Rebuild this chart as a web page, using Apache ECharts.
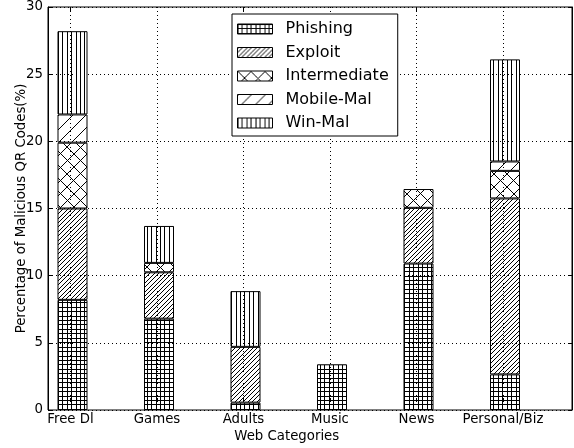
<!DOCTYPE html>
<html>
<head>
<meta charset="utf-8">
<script src="https://cdn.jsdelivr.net/npm/echarts@6/dist/echarts.min.js"></script>
<style>
  html, body { margin: 0; padding: 0; background: #fff; }
  #chart { width: 574px; height: 448px; }
</style>
</head>
<body>
<div id="chart"></div>
<script>
// Share of malicious QR codes per web category, split by threat type
const categories = ['Free Dl', 'Games', 'Adults', 'Music', 'News', 'Personal/Biz'];
const phishing     = [8.2, 6.8, 0.55, 3.4, 10.9, 2.65];
const exploit      = [6.8, 3.45, 4.15, null, 4.15, 13.1];
const intermediate = [4.9, 0.7, null, null, 1.4, 2.05];
const mobileMal    = [2.1, null, null, null, null, 0.7];
const winMal       = [6.2, 2.75, 4.15, null, null, 7.6];
const yMin = 0, yMax = 30, yStep = 5;

const FONT = 'DejaVu Sans';

// Pixel-exact hatch fills on a repeating 40x40 tile (transparent between lines)
function hatch(kinds) {
  const T = 40;
  const c = document.createElement('canvas');
  c.width = T; c.height = T;
  const g = c.getContext('2d');
  const img = g.createImageData(T, T);
  function hit(set, v) { return set.has(((v % T) + T) % T); }
  const sets = kinds.map(function (k) {
    const s = new Set();
    for (let i = 0; i < k.n; i++) s.add(Math.round(i * T / k.n) % T);
    return { dir: k.dir, s: s };
  });
  for (let y = 0; y < T; y++) {
    for (let x = 0; x < T; x++) {
      let on = false;
      sets.forEach(function (k) {
        if (k.dir === 'v' && hit(k.s, x)) on = true;
        if (k.dir === 'h' && hit(k.s, y)) on = true;
        if (k.dir === '/' && hit(k.s, x + y)) on = true;
        if (k.dir === '\\' && hit(k.s, x - y)) on = true;
      });
      if (on) {
        const p = (y * T + x) * 4;
        img.data[p] = 0; img.data[p + 1] = 0; img.data[p + 2] = 0; img.data[p + 3] = 255;
      }
    }
  }
  g.putImageData(img, 0, 0);
  return { image: c, repeat: 'repeat' };
}

const fills = {
  phishing: hatch([{ dir: 'v', n: 9 }, { dir: 'h', n: 9 }]),
  exploit: hatch([{ dir: '/', n: 9 }]),
  intermediate: hatch([{ dir: '/', n: 3 }, { dir: '\\', n: 3 }]),
  mobileMal: hatch([{ dir: '/', n: 3 }]),
  winMal: hatch([{ dir: 'v', n: 9 }])
};

function barSeries(name, data, fill) {
  return {
    name: name,
    type: 'bar',
    stack: 'total',
    xAxisIndex: 1,
    yAxisIndex: 2,
    barWidth: 30,
    data: data,
    itemStyle: { color: fill, borderColor: '#000', borderWidth: 1 },
    emphasis: { disabled: true }
  };
}

const dotted = { show: true, lineStyle: { color: '#000', width: 1, type: [1, 3] } };
const TOP = 7, BOTTOM = 38;

const chart = echarts.init(document.getElementById('chart'), null, { renderer: 'canvas' });
chart.setOption({
  animation: false,
  backgroundColor: '#fff',
  textStyle: { fontFamily: FONT },
  grid: [
    { left: 48, right: 2, top: TOP, bottom: BOTTOM, show: true, borderColor: '#000', borderWidth: 1, backgroundColor: 'transparent', containLabel: false },
    { left: 72.5, right: 69, top: TOP, bottom: BOTTOM },
    { left: 70.5, right: 71, top: TOP, bottom: BOTTOM }
  ],
  xAxis: [
    { gridIndex: 0, type: 'value', min: 0, max: 1, show: false },
    { gridIndex: 1, type: 'category', data: categories, boundaryGap: false, show: false },
    {
      gridIndex: 2, type: 'category', data: categories, boundaryGap: false, position: 'bottom',
      axisLine: { show: false },
      axisTick: { show: true, inside: true, length: 4, lineStyle: { color: '#000' } },
      axisLabel: { show: true, color: '#000', fontSize: 13.3, fontFamily: FONT, margin: 11, interval: 0, hideOverlap: false },
      splitLine: dotted,
      name: 'Web Categories', nameLocation: 'middle', nameGap: 28, nameMoveOverlap: false,
      nameTextStyle: { color: '#000', fontSize: 13.3, fontFamily: FONT }
    },
    {
      gridIndex: 2, type: 'category', data: categories, boundaryGap: false, position: 'top',
      axisLine: { show: false },
      axisTick: { show: true, inside: true, length: 4, lineStyle: { color: '#000' } },
      axisLabel: { show: false },
      splitLine: { show: false }
    }
  ],
  yAxis: [
    {
      gridIndex: 0, type: 'value', min: yMin, max: yMax, interval: yStep, position: 'left',
      axisLine: { show: true, lineStyle: { color: '#000' } },
      axisTick: { show: true, inside: true, length: 4, lineStyle: { color: '#000' } },
      axisLabel: { color: '#000', fontSize: 13.3, fontFamily: FONT, margin: 5 },
      splitLine: dotted,
      name: 'Percentage of Malicious QR Codes(%)', nameLocation: 'middle', nameGap: 20, nameMoveOverlap: false,
      nameTextStyle: { color: '#000', fontSize: 13.3, fontFamily: FONT }
    },
    {
      gridIndex: 0, type: 'value', min: yMin, max: yMax, interval: yStep, position: 'right',
      axisLine: { show: true, lineStyle: { color: '#000' } },
      axisTick: { show: true, inside: true, length: 4, lineStyle: { color: '#000' } },
      axisLabel: { show: false },
      splitLine: { show: false }
    },
    { gridIndex: 1, type: 'value', min: yMin, max: yMax, show: false },
    { gridIndex: 2, type: 'value', min: yMin, max: yMax, show: false }
  ],
  legend: {
    orient: 'vertical',
    left: 232, top: 14,
    itemWidth: 35, itemHeight: 10, itemGap: 7.5,
    padding: [7, 9, 5, 5],
    borderColor: '#000', borderWidth: 1, borderRadius: 0,
    backgroundColor: '#fff',
    selectedMode: false,
    icon: 'rect',
    itemStyle: { borderColor: '#000', borderWidth: 1 },
    textStyle: { color: '#000', fontSize: 16, fontFamily: FONT, padding: [0, 0, 0, 8] },
    data: ['Phishing', 'Exploit', 'Intermediate', 'Mobile-Mal', 'Win-Mal']
  },
  series: [
    barSeries('Phishing', phishing, fills.phishing),
    barSeries('Exploit', exploit, fills.exploit),
    barSeries('Intermediate', intermediate, fills.intermediate),
    barSeries('Mobile-Mal', mobileMal, fills.mobileMal),
    barSeries('Win-Mal', winMal, fills.winMal)
  ]
});
</script>
</body>
</html>
